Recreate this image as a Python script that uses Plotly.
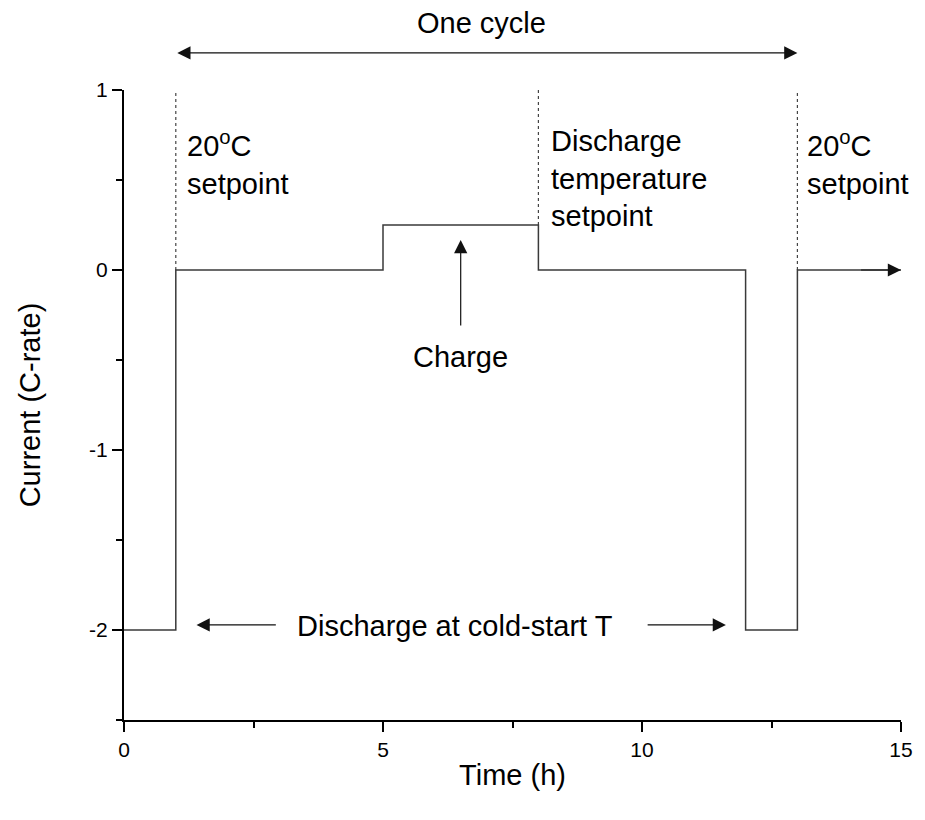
import plotly.graph_objects as go

# Current profile of one cold-start test cycle (step function)
time_h = [0, 1, 5, 8, 12, 13, 15]
current_c = [-2, 0, 0.25, 0, -2, 0, 0]

# Temperature setpoint changes (dashed markers)
setpoint_times = [1, 8, 13]
setpoint_from = [0, 0.25, 0]
setpoint_to = [1, 1, 1]
setpoint_labels = ["20<sup>o</sup>C<br>setpoint",
                   "Discharge<br>temperature<br>setpoint",
                   "20<sup>o</sup>C<br>setpoint"]

cycle_start, cycle_end = 1, 13
x_ticks = [0, 5, 10, 15]
y_ticks = [-2, -1, 0, 1]
y_range = [-2.5, 1]

FONT = "Liberation Sans, Arial, sans-serif"
LINE = "#3a3a3a"


def to_paper(y):
    return (y - y_range[0]) / (y_range[1] - y_range[0])


fig = go.Figure()

# dashed setpoint lines
for t, y0, y1 in zip(setpoint_times, setpoint_from, setpoint_to):
    fig.add_trace(go.Scatter(x=[t, t], y=[y0, y1], mode="lines",
                             line=dict(color="#444444", width=1.2, dash="3px,3px"),
                             hoverinfo="skip", showlegend=False))

# current step profile
fig.add_trace(go.Scatter(x=time_h, y=current_c, mode="lines",
                         line=dict(color=LINE, width=1.5, shape="hv"),
                         showlegend=False))

HEAD = dict(arrowhead=2, arrowsize=2.2, arrowwidth=1.2, arrowcolor="#111111",
            standoff=0, startstandoff=0, startarrowhead=2, startarrowsize=2.2)


def arrow(x0, y0, x1, y1):
    fig.add_annotation(x=x1, y=y1, ax=x0, ay=y0, xref="x", yref="y",
                       axref="x", ayref="y", text="", showarrow=True, **HEAD)


# one-cycle span (above the plotting area, so placed in paper units vertically)
fig.add_annotation(x=cycle_end, y=to_paper(1.206), xref="x", yref="paper",
                   ax=cycle_start, ay=0, axref="x", ayref="pixel", text="",
                   showarrow=True, arrowside="end+start", **HEAD)
fig.add_annotation(x=(cycle_start + cycle_end) / 2 - 0.1, y=to_paper(1.475),
                   xref="x", yref="paper", text="One cycle", showarrow=False,
                   font=dict(size=29, family=FONT, color="black"))

# continuation arrow at the end of the profile
arrow(14.2, 0, 15, 0)

# charge arrow
arrow(6.5, -0.317, 6.5, 0.167)
fig.add_annotation(x=6.5, y=-0.483, text="Charge", showarrow=False,
                   font=dict(size=29, family=FONT, color="black"))

# discharge span
fig.add_annotation(x=6.39, y=-1.975, text="Discharge at cold-start T", showarrow=False,
                   font=dict(size=29, family=FONT, color="black"))
arrow(2.96, -1.972, 1.40, -1.972)
arrow(10.08, -1.972, 11.62, -1.972)

# setpoint labels
label_x = [1.17, 8.2, 13.15]
label_y = [0.595, 0.51, 0.595]
for lx, ly, txt in zip(label_x, label_y, setpoint_labels):
    fig.add_annotation(x=lx, y=ly, text=txt, showarrow=False, xanchor="left",
                       yanchor="middle", align="left",
                       font=dict(size=29, family=FONT, color="black"))

axis_common = dict(showgrid=False, zeroline=False, showline=True, linewidth=2,
                   linecolor="black", ticks="outside", ticklen=10, tickwidth=2,
                   tickcolor="black")

fig.update_xaxes(range=[0, 15], tickvals=x_ticks, ticktext=[str(v) for v in x_ticks],
                 tickfont=dict(size=21, family=FONT, color="black"),
                 minor=dict(dtick=2.5, tick0=0, ticklen=6, tickwidth=2, tickcolor="black",
                            ticks="outside"),
                 title=dict(text="Time (h)", font=dict(size=29, family=FONT, color="black"),
                            standoff=4),
                 **axis_common)
fig.update_yaxes(range=y_range, tickvals=y_ticks, ticktext=[str(v) for v in y_ticks],
                 tickfont=dict(size=21, family=FONT, color="black"),
                 minor=dict(dtick=0.5, tick0=0, ticklen=6, tickwidth=2, tickcolor="black",
                            ticks="outside"),
                 title=dict(text="Current (C-rate)", font=dict(size=29, family=FONT, color="black"),
                            standoff=40),
                 **axis_common)

fig.update_layout(width=925, height=820, margin=dict(l=124, r=21, t=90, b=100),
                  plot_bgcolor="white", paper_bgcolor="white",
                  font=dict(family=FONT, color="black"))

fig.write_html("out.html")
